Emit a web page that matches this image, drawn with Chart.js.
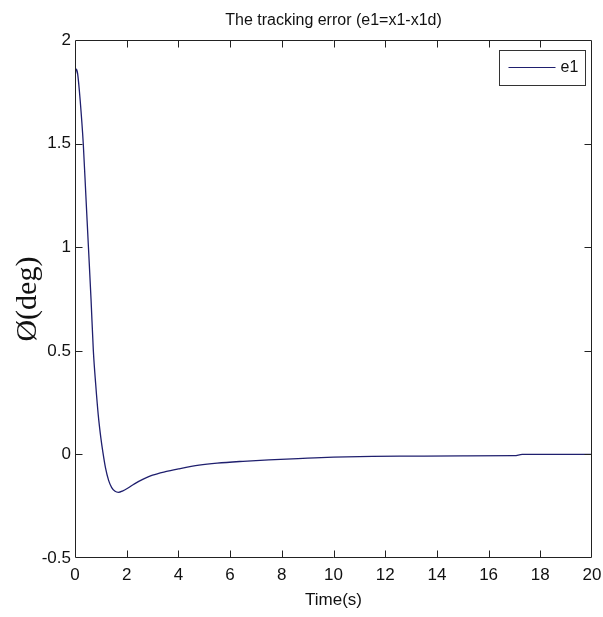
<!DOCTYPE html>
<html>
<head>
<meta charset="utf-8">
<script src="https://cdn.jsdelivr.net/npm/chart.js@4/dist/chart.umd.min.js"></script>
<style>
  html, body { margin: 0; padding: 0; background: #ffffff; }
  #wrap { width: 603px; height: 617px; position: relative; }
  canvas { display: block; }
</style>
</head>
<body>
<div id="wrap"><canvas id="c" width="603" height="617"></canvas></div>
<script>
// ---- data ----
const chartTitle = 'The tracking error (e1=x1-x1d)';
const seriesLabel = 'e1';
const xAxisTitle = 'Time(s)';
const yAxisTitle = 'Ø(deg)';
const xTickValues = [0, 2, 4, 6, 8, 10, 12, 14, 16, 18, 20];
const xTickLabels = ['0', '2', '4', '6', '8', '10', '12', '14', '16', '18', '20'];
const yTickValues = [-0.5, 0, 0.5, 1, 1.5, 2];
const yTickLabels = ['-0.5', '0', '0.5', '1', '1.5', '2'];
const timeS = [0, 0.05, 0.1, 0.2, 0.32, 0.42, 0.52, 0.62, 0.71, 0.8, 0.9, 1.0, 1.08, 1.18, 1.3, 1.42, 1.55, 1.68, 1.85, 2.05, 2.3, 2.6, 3.0, 3.5, 4.0, 4.8, 5.5, 6.5, 7.5, 9.0, 10.0, 11.5, 13.0, 15.0, 17.0, 17.3, 20];
const e1Values = [1.82, 1.86, 1.84, 1.71, 1.50, 1.25, 1.00, 0.75, 0.50, 0.34, 0.19, 0.08, 0.01, -0.065, -0.125, -0.16, -0.178, -0.183, -0.176, -0.162, -0.142, -0.122, -0.10, -0.083, -0.07, -0.052, -0.042, -0.033, -0.026, -0.018, -0.013, -0.009, -0.008, -0.007, -0.006, 0.0, 0.0];

const SANS = "'Liberation Sans', Arial, Helvetica, sans-serif";
const LINE_COLOR = '#1f1f6e';
const AXIS_COLOR = '#222222';

const points = timeS.map((t, i) => ({ x: t, y: e1Values[i] }));

const matlabBox = {
  id: 'matlabBox',
  afterDatasetsDraw(chart) {
    const { ctx, chartArea: a, scales } = chart;
    ctx.save();
    ctx.strokeStyle = AXIS_COLOR;
    ctx.lineWidth = 1;
    const L = Math.round(a.left) + 0.5, R = Math.round(a.right) - 0.5;
    const T = Math.round(a.top) + 0.5, B = Math.round(a.bottom) - 0.5;
    ctx.beginPath();
    ctx.rect(L, T, R - L, B - T);
    ctx.stroke();
    const tl = 7;
    ctx.beginPath();
    scales.x.ticks.forEach(tk => {
      const px = Math.round(scales.x.getPixelForValue(tk.value)) + 0.5;
      if (px <= L + 1 || px >= R - 1) return;
      ctx.moveTo(px, B); ctx.lineTo(px, B - tl);
      ctx.moveTo(px, T); ctx.lineTo(px, T + tl);
    });
    scales.y.ticks.forEach(tk => {
      const py = Math.round(scales.y.getPixelForValue(tk.value)) + 0.5;
      if (py <= T + 1 || py >= B - 1) return;
      ctx.moveTo(L, py); ctx.lineTo(L + tl, py);
      ctx.moveTo(R, py); ctx.lineTo(R - tl, py);
    });
    ctx.stroke();

    // legend box (top-right inside the axes)
    const bw = 86, bh = 35;
    const bx = Math.round(a.right) - 7 - bw + 0.5;
    const by = Math.round(a.top) + 10 + 0.5;
    ctx.fillStyle = '#ffffff';
    ctx.fillRect(bx, by, bw, bh);
    ctx.strokeStyle = '#333333';
    ctx.strokeRect(bx, by, bw, bh);
    const ds = chart.data.datasets[0];
    ctx.strokeStyle = ds.borderColor;
    ctx.lineWidth = 1.2;
    ctx.beginPath();
    ctx.moveTo(bx + 9, by + 17);
    ctx.lineTo(bx + 56, by + 17);
    ctx.stroke();
    ctx.fillStyle = '#111111';
    ctx.font = "16px " + SANS;
    ctx.textBaseline = 'middle';
    ctx.textAlign = 'left';
    ctx.fillText(ds.label, bx + 61, by + 17);
    ctx.restore();
  }
};

new Chart(document.getElementById('c'), {
  type: 'line',
  data: {
    datasets: [{
      label: seriesLabel,
      data: points,
      borderColor: LINE_COLOR,
      backgroundColor: LINE_COLOR,
      borderWidth: 1.3,
      pointRadius: 0,
      fill: false,
      cubicInterpolationMode: 'monotone'
    }]
  },
  options: {
    responsive: false,
    animation: false,
    devicePixelRatio: 1,
    layout: { padding: { left: 0, right: 11, top: 0, bottom: 0 } },
    plugins: {
      legend: { display: false },
      tooltip: { enabled: false },
      title: {
        display: true,
        fullSize: false,
        text: chartTitle,
        color: '#111111',
        font: { family: SANS, size: 16, weight: 'normal', lineHeight: 1.2 },
        padding: { top: 11, bottom: 10 }
      }
    },
    scales: {
      x: {
        type: 'linear',
        min: 0, max: 20,
        afterBuildTicks: s => { s.ticks = xTickValues.map(v => ({ value: v })); },
        afterFit: s => { s.height = 59; s.paddingRight = 0; s.paddingLeft = 0; },
        grid: { display: false, drawTicks: false },
        border: { display: false },
        ticks: {
          color: '#111111', padding: 7, maxRotation: 0,
          font: { family: SANS, size: 17 },
          callback: (v) => xTickLabels[xTickValues.indexOf(v)]
        },
        title: {
          display: true, text: xAxisTitle, color: '#111111',
          font: { family: SANS, size: 17 },
          padding: { top: 0, bottom: 6 }
        }
      },
      y: {
        type: 'linear',
        min: -0.5, max: 2,
        afterBuildTicks: s => { s.ticks = yTickValues.map(v => ({ value: v })); },
        afterFit: s => { s.width = 75; },
        grid: { display: false, drawTicks: false },
        border: { display: false },
        ticks: {
          color: '#111111', padding: 4,
          font: { family: SANS, size: 17 },
          callback: (v) => yTickLabels[yTickValues.indexOf(v)]
        },
        title: {
          display: true, text: yAxisTitle, color: '#111111',
          font: { family: "'Liberation Serif', 'DejaVu Serif', serif", size: 30 },
          padding: { top: 10, bottom: 0 }
        }
      }
    }
  },
  plugins: [matlabBox]
});
</script>
</body>
</html>
